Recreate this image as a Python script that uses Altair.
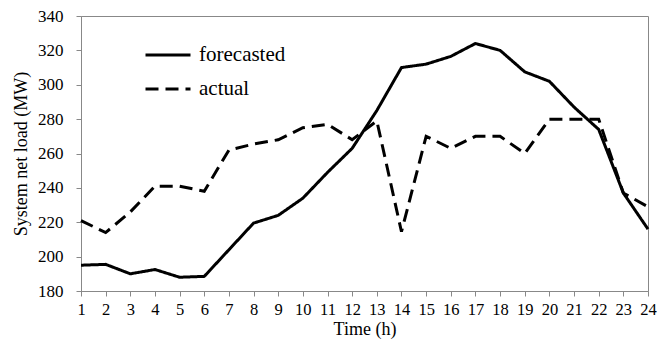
import altair as alt
import pandas as pd

hours = list(range(1, 25))
forecasted = [195, 195.5, 190, 192.5, 188, 188.5, 204, 219.5, 224, 234, 249, 263,
              285, 310, 312, 316.5, 324, 320, 307.5, 302, 287, 274, 237, 216]
actual = [221, 214, 226, 241, 241, 238, 262, 265.5, 268, 275, 277, 268,
          279, 214.5, 270, 263, 270, 270, 260, 280, 280, 280, 237, 229]
series_names = ["forecasted", "actual"]
y_ticks = [180, 200, 220, 240, 260, 280, 300, 320, 340]

rows = []
for name, vals in zip(series_names, [forecasted, actual]):
    for h, v in zip(hours, vals):
        rows.append({"hour": h, "load": v, "series": name})
df = pd.DataFrame(rows)

FONT = "Liberation Serif"
GRAY = "#888888"

chart = alt.Chart(df).mark_line(color="black", strokeWidth=3).encode(
    x=alt.X("hour:Q",
            scale=alt.Scale(domain=[1, 24], nice=False, zero=False),
            axis=alt.Axis(values=hours, title="Time (h)", grid=False,
                          labelFontSize=16.5, titleFontSize=18,
                          tickSize=5, labelPadding=5, labelOverlap=False,
                          labelFlush=False,
                          titleBaseline="alphabetic", titleY=43)),
    y=alt.Y("load:Q",
            scale=alt.Scale(domain=[180, 340], nice=False, zero=False),
            axis=alt.Axis(values=y_ticks, title="System net load (MW)", grid=False,
                          labelFontSize=17, titleFontSize=18,
                          tickSize=5, labelPadding=13, labelOverlap=False,
                          labelFlush=False,
                          titleBaseline="alphabetic", titleX=-55, titleY=137.5)),
    strokeDash=alt.StrokeDash("series:N",
                              scale=alt.Scale(domain=series_names, range=[[1, 0], [13, 7]]),
                              legend=alt.Legend(title=None, orient="none",
                                                legendX=63, legendY=15,
                                                symbolType="stroke", symbolSize=2025,
                                                symbolStrokeWidth=3, symbolStrokeColor="black",
                                                labelFontSize=21, labelOffset=7,
                                                rowPadding=-2)),
    order=alt.Order("hour:Q"),
).properties(
    width=567, height=275,
    autosize=alt.AutoSizeParams(type="none"),
    padding={"left": 73, "top": 8, "right": 10, "bottom": 48},
).configure(
    font=FONT,
).configure_axis(
    labelFont=FONT, titleFont=FONT, labelColor="black", titleColor="black",
    titleFontWeight="normal", domainColor=GRAY, tickColor=GRAY,
).configure_legend(
    labelFont=FONT, labelColor="black",
).configure_view(
    stroke=GRAY, strokeWidth=1,
)

chart.save("out.html", embed_options={"renderer": "svg", "actions": False})
